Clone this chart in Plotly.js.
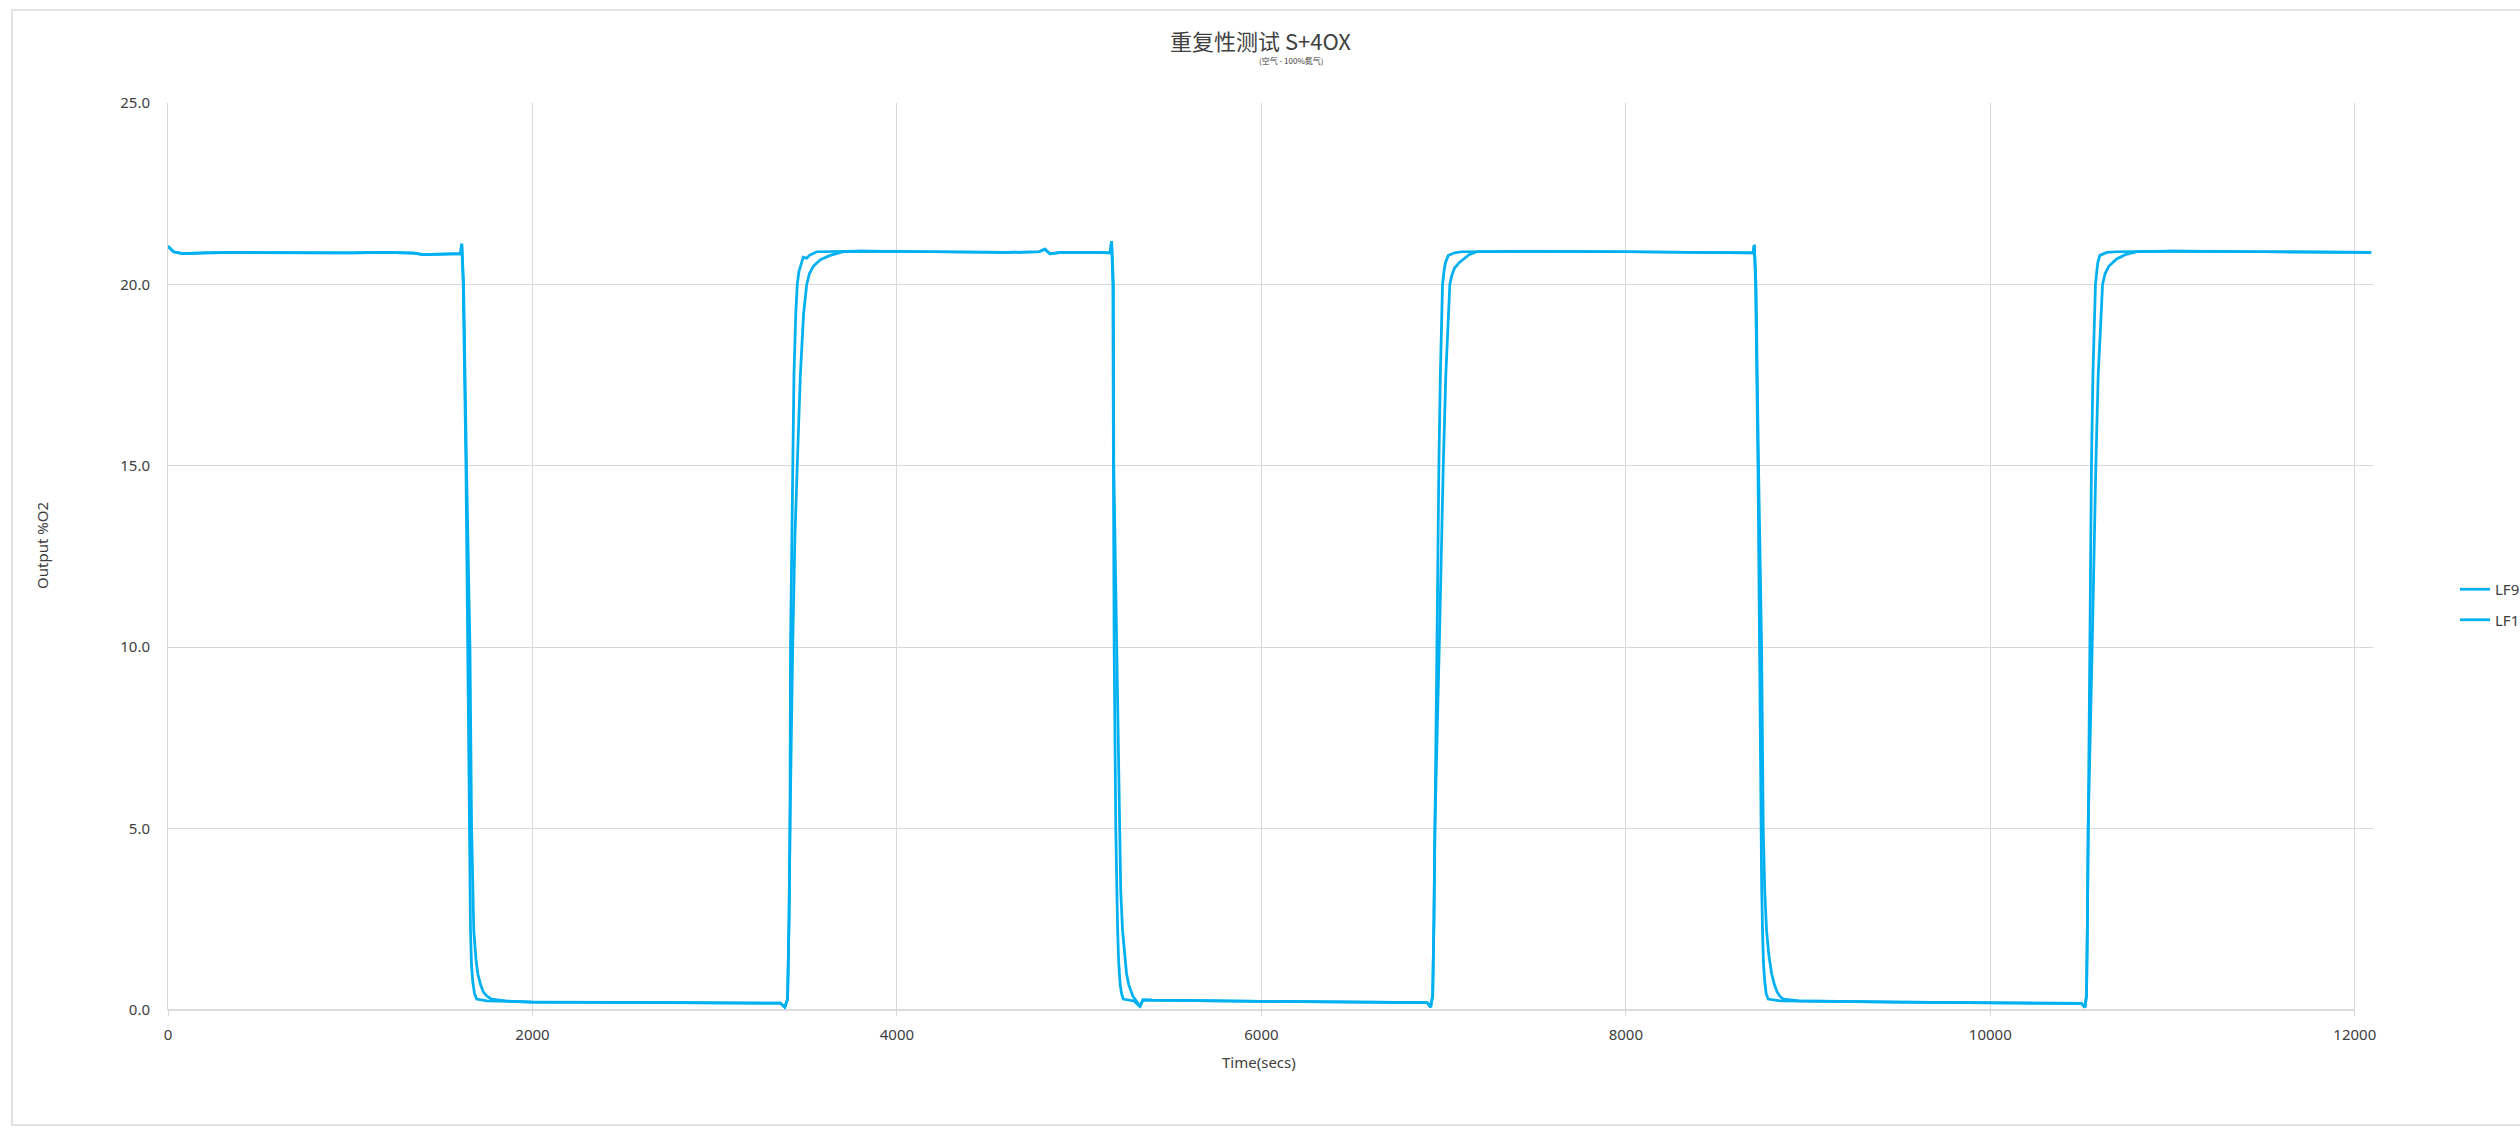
<!DOCTYPE html>
<html>
<head>
<meta charset="utf-8">
<script src="https://cdn.plot.ly/plotly-3.0.1.min.js"></script>
<style>
  html, body { margin: 0; padding: 0; background: #ffffff; }
  #chart { width: 2520px; height: 1129px; }
</style>
</head>
<body>
<div id="chart"></div>
<script>
// Repeatability test: sensor output while switching between air and 100% nitrogen
const lf9Time = [0, 30, 80, 200, 400, 600, 800, 1000, 1200, 1350, 1400, 1450, 1500, 1560, 1605,
  1612, 1620, 1635, 1644, 1653, 1657, 1660, 1665, 1672, 1682, 1694, 1750, 2000, 2500, 3000, 3300, 3360,
  3385, 3400, 3408, 3413, 3416, 3422, 3427, 3435, 3445, 3453, 3462, 3475, 3486, 3505, 3520, 3560,
  3800, 4200, 4600, 4780, 4812, 4840, 4900, 5100, 5170,
  5178, 5185, 5188, 5192, 5201, 5205, 5211, 5217, 5225, 5233, 5242, 5300, 5334, 5350, 5400,
  6000, 6500, 6850, 6910,
  6929, 6940, 6947, 6952, 6965, 6974, 6982, 6989, 6994, 7002, 7010, 7026, 7060, 7100,
  7500, 8000, 8300, 8600, 8698,
  8705, 8712, 8725, 8732, 8741, 8745, 8750, 8755, 8762, 8770, 8781, 8850, 9500, 10000, 10400, 10500,
  10519, 10528, 10533, 10537, 10546, 10555, 10563, 10571, 10577, 10584, 10590, 10601, 10640, 10693,
  11000, 11500, 12000, 12090];
const lf9Value = [21.05, 20.9, 20.85, 20.87, 20.88, 20.87, 20.88, 20.87, 20.88, 20.86, 20.82, 20.83, 20.84, 20.84, 20.85,
  21.12, 20.0, 15.0, 10.0, 5.0, 3.5, 2.2, 1.3, 0.8, 0.45, 0.3, 0.25, 0.22, 0.21, 0.2, 0.18, 0.19,
  0.08, 0.3, 2.5, 5.0, 10.0, 13.0, 15.0, 17.5, 19.2, 20.0, 20.35, 20.6, 20.75, 20.72, 20.8, 20.9,
  20.92, 20.9, 20.88, 20.9, 20.97, 20.84, 20.88, 20.88, 20.87,
  21.19, 20.0, 15.0, 10.0, 5.0, 3.5, 2.2, 1.3, 0.7, 0.45, 0.3, 0.25, 0.1, 0.28, 0.27,
  0.24, 0.22, 0.21, 0.2,
  0.08, 0.4, 2.5, 5.0, 10.0, 15.0, 17.5, 19.2, 20.0, 20.35, 20.6, 20.8, 20.87, 20.9,
  20.91, 20.9, 20.88, 20.88, 20.87,
  21.09, 20.0, 15.0, 10.0, 5.0, 3.5, 2.2, 1.3, 0.8, 0.45, 0.3, 0.25, 0.22, 0.2, 0.2, 0.18,
  0.07, 0.4, 2.5, 5.0, 10.0, 15.0, 17.5, 19.2, 20.0, 20.35, 20.6, 20.8, 20.88, 20.9,
  20.92, 20.9, 20.88, 20.88];

const lf1Time = [0, 30, 80, 200, 400, 600, 800, 1000, 1200, 1350, 1400, 1450, 1500, 1560, 1605,
  1612, 1622, 1638, 1657, 1666, 1672, 1678, 1690, 1700, 1715, 1730, 1750, 1776, 1850, 2000, 2500, 3000, 3300, 3360,
  3385, 3400, 3408, 3413, 3428, 3440, 3453, 3470, 3488, 3505, 3520, 3541, 3580, 3633, 3706,
  3800, 4200, 4600, 4780, 4812, 4840, 4900, 5100, 5170,
  5178, 5188, 5190, 5205, 5219, 5228, 5238, 5250, 5260, 5272, 5285, 5295, 5306, 5334, 5350, 5400,
  6000, 6500, 6850, 6910,
  6929, 6940, 6947, 6952, 6976, 6986, 6998, 7012, 7025, 7034, 7045, 7060, 7085, 7108, 7140, 7181,
  7500, 8000, 8300, 8600, 8698,
  8705, 8714, 8728, 8745, 8754, 8762, 8772, 8785, 8800, 8815, 8830, 8845, 8864, 8950, 9500, 10000, 10400, 10500,
  10519, 10528, 10533, 10537, 10559, 10568, 10579, 10592, 10606, 10616, 10630, 10650, 10693, 10740, 10803,
  11000, 11500, 12000, 12090];
const lf1Value = [21.05, 20.9, 20.85, 20.87, 20.88, 20.87, 20.88, 20.87, 20.88, 20.86, 20.82, 20.83, 20.84, 20.84, 20.85,
  21.12, 20.0, 15.0, 10.0, 5.0, 3.3, 2.2, 1.4, 1.0, 0.7, 0.5, 0.38, 0.3, 0.25, 0.22, 0.21, 0.2, 0.18, 0.19,
  0.08, 0.3, 2.5, 5.0, 10.0, 13.0, 15.0, 17.5, 19.2, 20.0, 20.3, 20.5, 20.68, 20.8, 20.9,
  20.92, 20.9, 20.88, 20.9, 20.97, 20.84, 20.88, 20.88, 20.87,
  21.19, 20.0, 15.0, 10.0, 5.0, 3.3, 2.2, 1.5, 1.0, 0.7, 0.5, 0.38, 0.3, 0.1, 0.28, 0.27,
  0.24, 0.22, 0.21, 0.2,
  0.08, 0.4, 2.5, 5.0, 10.0, 12.5, 15.0, 17.5, 19.2, 20.0, 20.25, 20.45, 20.6, 20.7, 20.82, 20.9,
  20.91, 20.9, 20.88, 20.88, 20.87,
  21.09, 20.0, 15.0, 10.0, 5.0, 3.3, 2.2, 1.5, 1.0, 0.7, 0.5, 0.38, 0.3, 0.25, 0.22, 0.2, 0.2, 0.18,
  0.07, 0.4, 2.5, 5.0, 10.0, 12.5, 15.0, 17.5, 19.2, 20.0, 20.3, 20.5, 20.7, 20.82, 20.9,
  20.92, 20.9, 20.88, 20.88];

const seriesNames = ['LF9', 'LF1'];
const xTickValues = [0, 2000, 4000, 6000, 8000, 10000, 12000];
const yTickValues = [0, 5, 10, 15, 20, 25];
const yTickLabels = ['0.0', '5.0', '10.0', '15.0', '20.0', '25.0'];

const lineColor = '#00b0f0';
const gridColor = '#d9d9d9';
const textColor = '#404040';
const latinFont = 'Noto Sans, Open Sans, sans-serif';
const cjkFont = 'Noto Sans CJK SC, Noto Sans, sans-serif';

const traces = [
  { x: lf9Time, y: lf9Value, name: seriesNames[0], legendgroup: 'a' },
  { x: lf1Time, y: lf1Value, name: seriesNames[1], legendgroup: 'b' }
].map(t => Object.assign(t, {
  type: 'scatter',
  mode: 'lines',
  line: { color: lineColor, width: 2.75 },
  hoverinfo: 'skip'
}));

// plot area: 168..2373 px horizontally, 103..1010 px vertically
const W = 2520, H = 1129;
const plotLeft = 168, plotWidth = 2205, plotBottom = 1010, plotHeight = 907;
const xRangeMax = 12100;
const px = v => (v - plotLeft) / plotWidth;      // page x -> paper x
const py = v => (plotBottom - v) / plotHeight;   // page y -> paper y

const layout = {
  width: W,
  height: H,
  paper_bgcolor: '#ffffff',
  plot_bgcolor: '#ffffff',
  margin: { l: plotLeft, r: W - plotLeft - plotWidth, t: plotBottom - plotHeight, b: H - plotBottom },
  showlegend: true,
  legend: {
    xref: 'container', yref: 'container',
    x: 2455 / W, xanchor: 'left',
    y: (H - 573) / H, yanchor: 'top',
    font: { family: latinFont, size: 15, color: textColor },
    itemwidth: 30,
    tracegroupgap: 8,
    bgcolor: 'rgba(0,0,0,0)'
  },
  xaxis: {
    range: [0, xRangeMax],
    tickmode: 'array',
    tickvals: xTickValues,
    ticktext: xTickValues.map(String),
    showline: false,
    showgrid: true,
    gridcolor: gridColor,
    gridwidth: 1,
    zeroline: false,
    ticks: 'outside',
    ticklen: 5,
    tickcolor: gridColor,
    ticklabelstandoff: 6,
    tickfont: { family: latinFont, size: 15, color: textColor },
    fixedrange: true
  },
  yaxis: {
    range: [0, 25],
    tickmode: 'array',
    tickvals: yTickValues,
    ticktext: yTickLabels,
    showline: true,
    linecolor: gridColor,
    linewidth: 1,
    showgrid: true,
    gridcolor: gridColor,
    gridwidth: 1,
    zeroline: false,
    ticks: '',
    ticklabelstandoff: 14,
    tickfont: { family: latinFont, size: 15, color: textColor },
    fixedrange: true
  },
  shapes: [
    // horizontal axis line, ending at the last tick
    { type: 'line', xref: 'x', yref: 'paper', x0: 0, x1: 12000, y0: 0, y1: 0,
      line: { color: '#cfcfcf', width: 1.5 }, layer: 'below' },
    // chart frame
    { type: 'rect', xref: 'paper', yref: 'paper',
      x0: px(12), x1: px(2600), y0: py(1125), y1: py(10),
      line: { color: '#e3e3e3', width: 2 }, fillcolor: 'rgba(0,0,0,0)' }
  ],
  annotations: [
    { text: '重复性测试 S+4OX', xref: 'paper', yref: 'paper',
      x: px(1260), y: py(40), xanchor: 'center', yanchor: 'middle',
      showarrow: false, font: { family: cjkFont, size: 22, color: '#404040' } },
    { text: '(空气 - 100%氮气)', xref: 'paper', yref: 'paper',
      x: px(1291), y: py(61), xanchor: 'center', yanchor: 'middle',
      showarrow: false, font: { family: cjkFont, size: 8, color: '#404040' } },
    // axis titles
    { text: 'Time(secs)', xref: 'paper', yref: 'paper',
      x: px(1259), y: py(1062), xanchor: 'center', yanchor: 'middle',
      showarrow: false, font: { family: latinFont, size: 15, color: textColor } },
    { text: 'Output %O2', xref: 'paper', yref: 'paper', textangle: -90,
      x: px(42), y: py(546), xanchor: 'center', yanchor: 'middle',
      showarrow: false, font: { family: latinFont, size: 15, color: textColor } }
  ]
};

Plotly.newPlot('chart', traces, layout, { staticPlot: true, displayModeBar: false });
</script>
</body>
</html>
